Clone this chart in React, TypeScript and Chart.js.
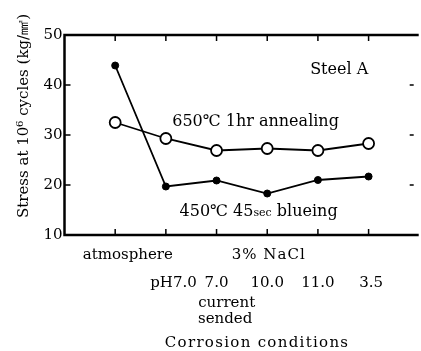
import React, { useEffect, useRef } from "react";
import { Chart, registerables } from "chart.js";

Chart.register(...registerables);

// Data
const conditionX = [1, 2, 3, 4, 5, 6];
const annealing = [32.5, 29.3, 26.9, 27.3, 26.9, 28.3];
const blueing = [43.9, 19.7, 20.9, 18.3, 21.0, 21.7];
const yTicks = [10, 20, 30, 40, 50];
const rightTicks = [20, 30, 40];
const phLabels = ["pH7.0", "7.0", "10.0", "11.0", "3.5"];
const phLabelX = [2.15, 3, 4, 5, 6.05];

const FONT = '"DejaVu Serif", "Liberation Serif", serif';

const framePlugin = {
  id: "frame",
  beforeDatasetsDraw(chart: any) {
    const { ctx, chartArea: a, scales } = chart;
    const xs = scales.x;
    const ys = scales.y;
    ctx.save();
    ctx.strokeStyle = "#000";
    ctx.lineWidth = 2.5;
    ctx.beginPath();
    ctx.moveTo(a.right + 5, a.top);
    ctx.lineTo(a.left, a.top);
    ctx.lineTo(a.left, a.bottom);
    ctx.lineTo(a.right + 5, a.bottom);
    ctx.stroke();
    ctx.lineWidth = 1.5;
    ctx.beginPath();
    for (const v of yTicks) {
      const y = ys.getPixelForValue(v);
      ctx.moveTo(a.left, y);
      ctx.lineTo(a.left + 6, y);
    }
    for (const v of rightTicks) {
      const y = ys.getPixelForValue(v);
      ctx.moveTo(a.right, y);
      ctx.lineTo(a.right - 4, y);
    }
    for (const v of conditionX) {
      const x = xs.getPixelForValue(v);
      ctx.moveTo(x, a.top);
      ctx.lineTo(x, a.top + 6);
      ctx.moveTo(x, a.bottom);
      ctx.lineTo(x, a.bottom - 6);
    }
    ctx.stroke();
    ctx.restore();
  },
  afterDraw(chart: any) {
    const { ctx, chartArea: a, scales } = chart;
    const xs = scales.x;
    const ys = scales.y;
    ctx.save();
    ctx.fillStyle = "#000";
    // y tick labels
    ctx.font = `15px ${FONT}`;
    ctx.textAlign = "right";
    ctx.textBaseline = "middle";
    for (const v of yTicks) {
      ctx.fillText(String(v), a.left - 2, ys.getPixelForValue(v));
    }
    // x labels
    ctx.textAlign = "center";
    ctx.fillText("atmosphere", xs.getPixelForValue(1.25), a.bottom + 20);
    ctx.letterSpacing = "1px";
    ctx.fillText("3% NaCl", xs.getPixelForValue(4.03), a.bottom + 20);
    ctx.letterSpacing = "0px";
    phLabels.forEach((t, i) => {
      ctx.fillText(t, xs.getPixelForValue(phLabelX[i]), a.bottom + 48);
    });
    ctx.fillText("current", xs.getPixelForValue(3.2), a.bottom + 68);
    ctx.fillText("sended", xs.getPixelForValue(3.17), a.bottom + 84);
    ctx.letterSpacing = "1.3px";
    ctx.fillText("Corrosion conditions", xs.getPixelForValue(3.8), a.bottom + 108);
    ctx.letterSpacing = "0px";
    // annotations
    ctx.font = `16px ${FONT}`;
    ctx.fillText("Steel A", xs.getPixelForValue(5.42), ys.getPixelForValue(43));
    ctx.fillText("650℃ 1hr annealing", xs.getPixelForValue(3.77), ys.getPixelForValue(32.6));
    // 450 C 45sec blueing with small "sec"
    const cx = xs.getPixelForValue(3.83);
    const cy = ys.getPixelForValue(14.6);
    const p1 = "450℃ 45";
    const p3 = " blueing";
    ctx.font = `16px ${FONT}`;
    const w1 = ctx.measureText(p1).width;
    const w3 = ctx.measureText(p3).width;
    ctx.font = `11px ${FONT}`;
    const w2 = ctx.measureText("sec").width;
    let sx = cx - (w1 + w2 + w3) / 2;
    ctx.textAlign = "left";
    ctx.font = `16px ${FONT}`;
    ctx.fillText(p1, sx, cy);
    sx += w1;
    ctx.font = `11px ${FONT}`;
    ctx.fillText("sec", sx, cy + 1);
    sx += w2;
    ctx.font = `16px ${FONT}`;
    ctx.fillText(p3, sx, cy);
    // y axis title
    ctx.translate(24, 116);
    ctx.rotate(-Math.PI / 2);
    ctx.textAlign = "center";
    ctx.font = `15px ${FONT}`;
    ctx.fillText("Stress at 10⁶ cycles (kg/㎟)", 0, 0);
    ctx.restore();
  },
};

export default function App() {
  const ref = useRef<HTMLCanvasElement>(null);
  useEffect(() => {
    if (!ref.current) return;
    const chart = new Chart(ref.current, {
      type: "line",
      data: {
        datasets: [
          {
            label: "650℃ 1hr annealing",
            data: conditionX.map((x, i) => ({ x, y: annealing[i] })),
            borderColor: "#000",
            borderWidth: 1.8,
            pointRadius: 5.5,
            pointBackgroundColor: "#fff",
            pointBorderColor: "#000",
            pointBorderWidth: 1.8,
            order: 0,
          },
          {
            label: "450℃ 45sec blueing",
            data: conditionX.map((x, i) => ({ x, y: blueing[i] })),
            borderColor: "#000",
            borderWidth: 1.8,
            pointRadius: 3.5,
            pointBackgroundColor: "#000",
            pointBorderColor: "#000",
            pointBorderWidth: 1,
            order: 1,
          },
        ],
      },
      options: {
        animation: false,
        responsive: false,
        maintainAspectRatio: false,
        layout: { padding: { left: 64.5, top: 35, right: 0, bottom: 116 } },
        plugins: { legend: { display: false }, tooltip: { enabled: false } },
        scales: {
          x: { type: "linear", min: 0, max: 6.89, display: false },
          y: { type: "linear", min: 10, max: 50, display: false },
        },
      },
      plugins: [framePlugin],
    });
    return () => chart.destroy();
  }, []);
  return (
    <div
      style={{
        position: "fixed",
        left: 0,
        top: 0,
        width: 421,
        height: 351,
        overflow: "hidden",
        background: "#fff",
      }}
    >
      <canvas ref={ref} width={421} height={351} style={{ display: "block" }} />
    </div>
  );
}
